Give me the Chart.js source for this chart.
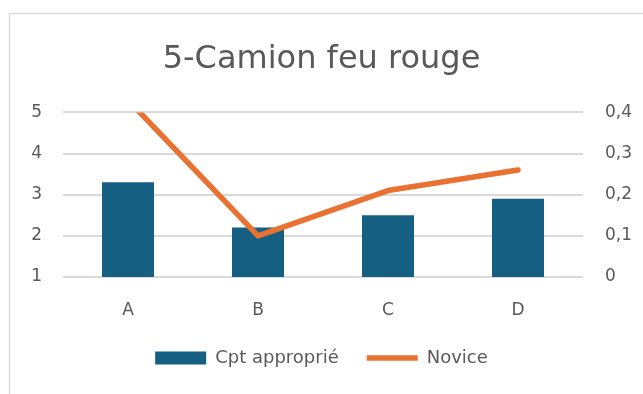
<!DOCTYPE html>
<html>
<head>
<meta charset="utf-8">
<script src="https://cdn.jsdelivr.net/npm/chart.js@4"></script>
<style>
  html, body { margin: 0; padding: 0; background: #fff; }
  #wrap { width: 643px; height: 394px; position: relative; }
</style>
</head>
<body>
<div id="wrap"><canvas id="chart"></canvas></div>
<script>
// Categories and series
const categories = ["A", "B", "C", "D"];
const cptApproprie = [3.3, 2.2, 2.5, 2.9];
const novice = [0.43, 0.1, 0.21, 0.26];

// Axis ranges
const leftTicks = [1, 2, 3, 4, 5];
const rightTicks = [0, 0.1, 0.2, 0.3, 0.4];

const textColor = "#595959";
const gridColor = "#d9d9d9";
const fontFamily = "'DejaVu Sans', sans-serif";

// light frame around the chart, like the spreadsheet object border
const framePlugin = {
  id: "frame",
  beforeDraw(chart) {
    const ctx = chart.ctx;
    ctx.save();
    ctx.fillStyle = "#ffffff";
    ctx.fillRect(0, 0, chart.width, chart.height);
    ctx.strokeStyle = gridColor;
    ctx.lineWidth = 1.5;
    ctx.beginPath();
    ctx.moveTo(9.5, chart.height);
    ctx.lineTo(9.5, 13.5);
    ctx.lineTo(chart.width, 13.5);
    ctx.stroke();
    ctx.restore();
  }
};

const ctx = document.getElementById("chart").getContext("2d");
new Chart(ctx, {
  data: {
    labels: categories,
    datasets: [
      {
        type: "line",
        label: "Novice",
        data: novice,
        yAxisID: "y2",
        borderColor: "#E97132",
        backgroundColor: "#E97132",
        borderWidth: 5.5,
        borderCapStyle: "round",
        borderJoinStyle: "round",
        pointRadius: 0,
        pointStyle: "line",
        tension: 0,
        clip: 0,
        order: 0
      },
      {
        type: "bar",
        label: "Cpt approprié",
        data: cptApproprie,
        yAxisID: "y",
        backgroundColor: "#156082",
        borderWidth: 0,
        pointStyle: "rect",
        barPercentage: 0.4,
        categoryPercentage: 1,
        order: 1
      }
    ]
  },
  options: {
    responsive: true,
    maintainAspectRatio: false,
    animation: false,
    layout: { padding: { top: 0, left: 0, right: 0, bottom: 17 } },
    scales: {
      x: {
        grid: { display: false, drawTicks: false },
        border: { display: false },
        ticks: { color: textColor, font: { family: fontFamily, size: 17 }, padding: 23 },
        afterFit(scale) { scale.height = 44; }
      },
      y: {
        position: "left",
        min: leftTicks[0],
        max: leftTicks[leftTicks.length - 1],
        afterBuildTicks(scale) { scale.ticks = leftTicks.map(v => ({ value: v })); },
        grid: { color: gridColor, lineWidth: 2, drawTicks: false },
        border: { display: false },
        ticks: { color: textColor, font: { family: fontFamily, size: 17 }, padding: 21 },
        afterFit(scale) { scale.width = 63; }
      },
      y2: {
        position: "right",
        min: rightTicks[0],
        max: rightTicks[rightTicks.length - 1],
        afterBuildTicks(scale) { scale.ticks = rightTicks.map(v => ({ value: v })); },
        grid: { display: false, drawTicks: false },
        border: { display: false },
        ticks: {
          color: textColor,
          font: { family: fontFamily, size: 17 },
          padding: 22,
          callback: v => String(Math.round(v * 10) / 10).replace(".", ",")
        },
        afterFit(scale) { scale.width = 60; }
      }
    },
    plugins: {
      title: {
        display: true,
        text: "5-Camion feu rouge",
        color: textColor,
        font: { family: fontFamily, size: 32, weight: "normal" },
        padding: { top: 40, bottom: 34 }
      },
      legend: {
        position: "bottom",
        reverse: true,
        labels: {
          color: textColor,
          font: { family: fontFamily, size: 18 },
          usePointStyle: true,
          pointStyleWidth: 51,
          boxHeight: 13,
          padding: 28
        }
      },
      tooltip: { enabled: false }
    }
  },
  plugins: [framePlugin]
});
</script>
</body>
</html>
